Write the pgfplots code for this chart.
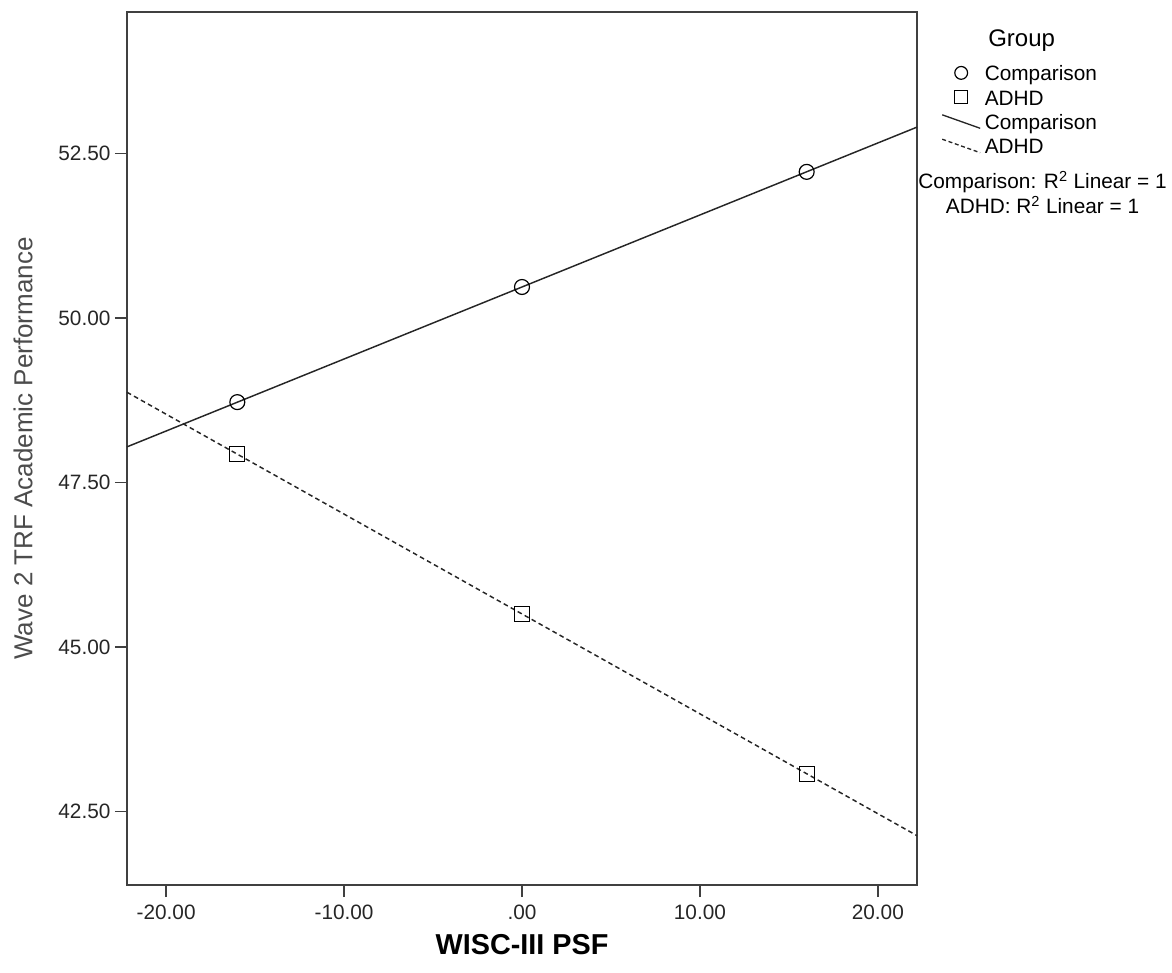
\documentclass[border=0pt]{standalone}
\usepackage{fontspec}
\setmainfont{Liberation Sans}
\usepackage{pgfplots}
\pgfplotsset{compat=1.18}
\begin{document}
\begin{tikzpicture}
\useasboundingbox (-95.25pt,-65.25pt) rectangle (783.75pt,663.75pt);
\begin{axis}[
  scale only axis,
  width=592.5pt, height=654.75pt,
  xmin=-22.2, xmax=22.2,
  ymin=41.38, ymax=54.65,
  clip=false,
  axis line style={line width=1.1pt, draw=black!75},
  tick style={line width=1.1pt, draw=black!75},
  tick align=outside,
  major tick length=9pt,
  xtick pos=bottom, ytick pos=left,
  xtick={-20,-10,0,10,20},
  xticklabels={-20.00,-10.00,.00,10.00,20.00},
  ytick={42.5,45,47.5,50,52.5},
  yticklabels={42.50,45.00,47.50,50.00,52.50},
  /pgf/number format/assume math mode=true,
  ticklabel style={font=\fontsize{15.6}{18}\selectfont, text=black!85},
  xticklabel style={inner sep=2pt, yshift=-4pt},
  yticklabel style={inner sep=2pt, xshift=-1.2pt},
  xlabel={\textbf{WISC-III PSF}},
  ylabel={Wave 2 TRF Academic Performance},
  xlabel style={font=\fontsize{21.6}{24}\selectfont, at={(axis description cs:0.5,-0.0687)}, anchor=center},
  ylabel style={font=\fontsize{19.5}{22}\selectfont, text=black!70, at={(axis description cs:-0.1316,0.5)}, anchor=center, rotate=0},
  legend style={
    at={(rel axis cs:1.0316,0.9453)}, anchor=north west,
    draw=none, fill=none, inner sep=0pt,
    font=\fontsize{15.6}{18}\selectfont,
    nodes={inner sep=1pt, text height=11.5pt, text depth=3.5pt},
    column sep=2.5pt, row sep=-1.7pt,
    legend cell align=left,
  },
]
\addplot[only marks, mark=o, mark size=5.6pt, line width=0.9pt, forget plot] coordinates {(-16,48.72) (0,50.47) (16,52.22)};
\addplot[only marks, mark=square, mark size=5.6pt, line width=0.9pt, forget plot] coordinates {(-16,47.93) (0,45.50) (16,43.07)};
\addplot[line width=1.1pt, black!85, forget plot] coordinates {(-22.2,48.04) (22.2,52.90)};
\addplot[line width=1.1pt, black!85, dash pattern=on 3.5pt off 2.5pt, forget plot] coordinates {(-22.2,48.87) (22.2,42.13)};

\addlegendimage{legend image code/.code={\path[draw=none, fill=none, use as bounding box] (0cm,-3.5pt) rectangle (1cm,11.5pt); \draw[line width=0.9pt, black] (0.5cm,1.85pt) circle (4.8pt);}}
\addlegendentry{Comparison}
\addlegendimage{legend image code/.code={\path[draw=none, fill=none, use as bounding box] (0cm,-3.5pt) rectangle (1cm,11.5pt); \draw[line width=0.9pt, black] (0.5cm,1.85pt) ++(-4.8pt,-4.8pt) rectangle ++(9.6pt,9.6pt);}}
\addlegendentry{ADHD}
\addlegendimage{legend image code/.code={\path[draw=none, fill=none, use as bounding box] (0cm,-3.5pt) rectangle (1cm,11.5pt); \draw[line width=1pt, black!85] (0cm,7pt) -- (1cm,-3.1pt);}}
\addlegendentry{Comparison}
\addlegendimage{legend image code/.code={\path[draw=none, fill=none, use as bounding box] (0cm,-3.5pt) rectangle (1cm,11.5pt); \draw[line width=1pt, black!85, dash pattern=on 3pt off 2pt] (0cm,7pt) -- (1cm,-3.1pt);}}
\addlegendentry{ADHD}

\node[font=\fontsize{18}{20}\selectfont, anchor=west, inner sep=0pt] at (rel axis cs:1.0899,0.9668) {Group};
\node[font=\fontsize{15.6}{18}\selectfont, align=center, inner sep=0pt] at (rel axis cs:1.1589,0.7930) {Comparison: R\textsuperscript{2} Linear = 1\\[0.5pt] ADHD: R\textsuperscript{2} Linear = 1};
\end{axis}
\end{tikzpicture}
\end{document}
